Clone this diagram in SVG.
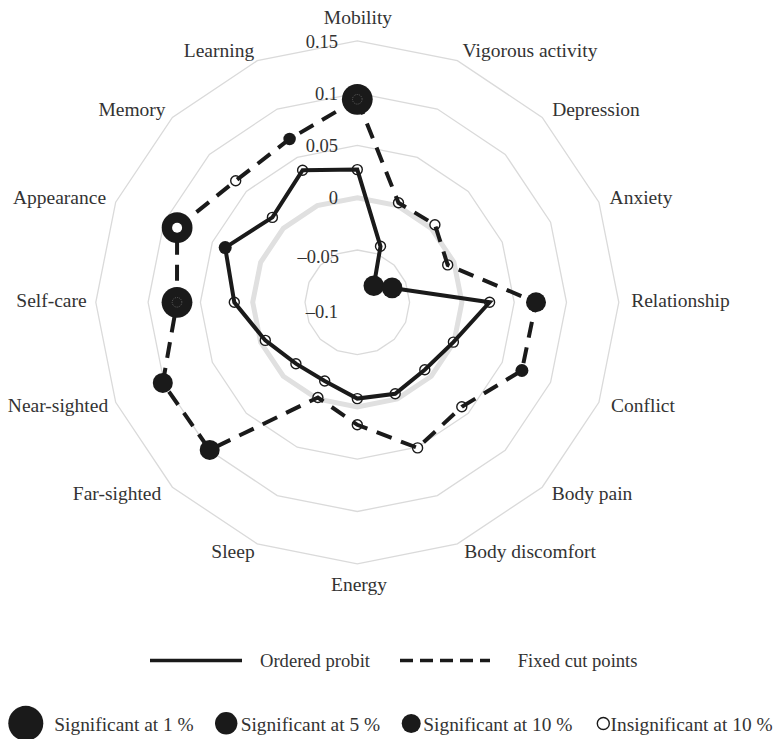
<svg xmlns="http://www.w3.org/2000/svg" width="781" height="739" viewBox="0 0 781 739">
<style>
  text { font-family: "Liberation Serif", "DejaVu Serif", "Times New Roman", serif; fill: #333; }
  .lab { font-size: 19.5px; text-anchor: middle; }
  .tick { font-size: 18.5px; text-anchor: end; }
  .leg1 { font-size: 18.6px; }
  .leg2 { font-size: 19.4px; }
  .ring { fill: none; stroke: #dadada; stroke-width: 1.3; }
  .ring0 { fill: none; stroke: #e0e0e0; stroke-width: 5; }
  .op { fill: none; stroke: #1a1a1a; stroke-width: 4; stroke-linejoin: miter; }
  .fc { fill: none; stroke: #1a1a1a; stroke-width: 4; stroke-dasharray: 16 10; }
  .open { fill: #fff; stroke: #1a1a1a; stroke-width: 1.4; }
  .dot { fill: #1a1a1a; }
  .inner { fill: none; stroke: #777; stroke-width: 0.7; stroke-dasharray: 1 1; }
</style>
<rect width="781" height="739" fill="#fff"/>
<g id="grid" transform="translate(357.3,302.3)">
  <polygon class="ring" points="0,-52.3 20.01,-48.32 36.98,-36.98 48.32,-20.01 52.3,0 48.32,20.01 36.98,36.98 20.01,48.32 0,52.3 -20.01,48.32 -36.98,36.98 -48.32,20.01 -52.3,0 -48.32,-20.01 -36.98,-36.98 -20.01,-48.32"/>
  <polygon class="ring0" points="0,-104.6 40.03,-96.64 73.96,-73.96 96.64,-40.03 104.6,0 96.64,40.03 73.96,73.96 40.03,96.64 0,104.6 -40.03,96.64 -73.96,73.96 -96.64,40.03 -104.6,0 -96.64,-40.03 -73.96,-73.96 -40.03,-96.64"/>
  <polygon class="ring" points="0,-156.9 60.04,-144.96 110.95,-110.95 144.96,-60.04 156.9,0 144.96,60.04 110.95,110.95 60.04,144.96 0,156.9 -60.04,144.96 -110.95,110.95 -144.96,60.04 -156.9,0 -144.96,-60.04 -110.95,-110.95 -60.04,-144.96"/>
  <polygon class="ring" points="0,-209.2 80.06,-193.28 147.93,-147.93 193.28,-80.06 209.2,0 193.28,80.06 147.93,147.93 80.06,193.28 0,209.2 -80.06,193.28 -147.93,147.93 -193.28,80.06 -209.2,0 -193.28,-80.06 -147.93,-147.93 -80.06,-193.28"/>
  <polygon class="ring" points="0,-261.5 100.07,-241.6 184.91,-184.91 241.6,-100.07 261.5,0 241.6,100.07 184.91,184.91 100.07,241.6 0,261.5 -100.07,241.6 -184.91,184.91 -241.6,100.07 -261.5,0 -241.6,-100.07 -184.91,-184.91 -100.07,-241.6"/>
</g>
<g id="ticks" font-family="Liberation Serif, serif">
  <text class="tick" x="338" y="48">0.15</text>
  <text class="tick" x="338" y="100">0.1</text>
  <text class="tick" x="338" y="152">0.05</text>
  <text class="tick" x="338" y="204">0</text>
  <text class="tick" x="339" y="263">–0.05</text>
  <text class="tick" x="338" y="318">–0.1</text>
</g>
<g id="axis-labels" font-family="Liberation Serif, serif">
  <text class="lab" x="358" y="24">Mobility</text>
  <text class="lab" x="530" y="57">Vigorous activity</text>
  <text class="lab" x="596" y="116">Depression</text>
  <text class="lab" x="641" y="204">Anxiety</text>
  <text class="lab" x="680.5" y="307">Relationship</text>
  <text class="lab" x="643" y="412">Conflict</text>
  <text class="lab" x="592" y="500">Body pain</text>
  <text class="lab" x="530" y="558">Body discomfort</text>
  <text class="lab" x="359" y="591">Energy</text>
  <text class="lab" x="233" y="558">Sleep</text>
  <text class="lab" x="117" y="500">Far-sighted</text>
  <text class="lab" x="58" y="412">Near-sighted</text>
  <text class="lab" x="51.5" y="307">Self-care</text>
  <text class="lab" x="59.5" y="204">Appearance</text>
  <text class="lab" x="132" y="116">Memory</text>
  <text class="lab" x="219" y="57">Learning</text>
</g>
<g id="open-markers">
  <circle class="open" cx="357.3" cy="169.6" r="5"/>
  <circle class="open" cx="380.5" cy="246.3" r="5"/>
  <circle class="open" cx="489.6" cy="302.3" r="5"/>
  <circle class="open" cx="453.4" cy="342.1" r="5"/>
  <circle class="open" cx="424.8" cy="369.8" r="5"/>
  <circle class="open" cx="395.2" cy="393.8" r="5"/>
  <circle class="open" cx="357.3" cy="398.6" r="5"/>
  <circle class="open" cx="324.7" cy="381.0" r="5"/>
  <circle class="open" cx="295.9" cy="363.7" r="5"/>
  <circle class="open" cx="265.3" cy="340.4" r="5"/>
  <circle class="open" cx="234.3" cy="302.3" r="5"/>
  <circle class="open" cx="272.4" cy="217.4" r="5"/>
  <circle class="open" cx="302.6" cy="170.2" r="5"/>
  <circle class="open" cx="398.5" cy="202.8" r="5"/>
  <circle class="open" cx="434.9" cy="224.7" r="5"/>
  <circle class="open" cx="447.7" cy="264.9" r="5"/>
  <circle class="open" cx="461.8" cy="406.8" r="5"/>
  <circle class="open" cx="417.6" cy="447.9" r="5"/>
  <circle class="open" cx="357.3" cy="424.8" r="5"/>
  <circle class="open" cx="317.9" cy="397.5" r="5"/>
  <circle class="open" cx="235.7" cy="180.7" r="5"/>
</g>
<g id="connectors">
  <polygon class="op" points="357.3,169.6 380.5,246.3 373.8,285.8 392.1,287.9 489.6,302.3 453.4,342.1 424.8,369.8 395.2,393.8 357.3,398.6 324.7,381.0 295.9,363.7 265.3,340.4 234.3,302.3 225.2,247.6 272.4,217.4 302.6,170.2"/>
  <polygon class="fc" points="357.3,99.3 398.5,202.8 434.9,224.7 447.7,264.9 536.0,302.3 521.9,370.5 461.8,406.8 417.6,447.9 357.3,424.8 317.9,397.5 209.7,449.9 162.8,382.9 177.0,302.3 177.1,227.7 235.7,180.7 289.6,139.0"/>
</g>
<g id="filled-markers">
  <circle class="dot" cx="373.8" cy="285.8" r="10.3"/>
  <circle class="dot" cx="392.1" cy="287.9" r="10.3"/>
  <circle class="dot" cx="225.2" cy="247.6" r="6.5"/>
  <g id="mobility-fc">
    <circle class="dot" cx="357.3" cy="99.3" r="15.4"/>
    <circle class="inner" cx="357.3" cy="99.3" r="4.8"/>
  </g>
  <circle class="dot" cx="536.0" cy="302.3" r="10"/>
  <circle class="dot" cx="521.9" cy="370.5" r="6.5"/>
  <circle class="dot" cx="209.7" cy="449.9" r="10"/>
  <circle class="dot" cx="162.8" cy="382.9" r="10"/>
  <g id="selfcare-fc">
    <circle class="dot" cx="177.0" cy="302.3" r="15.4"/>
    <circle class="inner" cx="177.0" cy="302.3" r="4.8"/>
  </g>
  <g id="appearance-fc">
    <circle class="dot" cx="177.1" cy="227.7" r="15.4"/>
    <circle cx="177.1" cy="227.7" r="5" fill="#fff"/>
  </g>
  <circle class="dot" cx="289.6" cy="139.0" r="6.2"/>
</g>
<g id="legend" font-family="Liberation Serif, serif">
  <line x1="150" y1="660.5" x2="242" y2="660.5" stroke="#1a1a1a" stroke-width="3.5"/>
  <text class="leg1" x="260" y="666.5">Ordered probit</text>
  <line x1="400" y1="660.5" x2="490" y2="660.5" stroke="#1a1a1a" stroke-width="3.5" stroke-dasharray="13 7"/>
  <text class="leg1" x="517.7" y="666.5">Fixed cut points</text>
  <circle class="dot" cx="25.8" cy="723.3" r="17.5"/>
  <text class="leg2" x="54.3" y="731">Significant at 1 %</text>
  <circle class="dot" cx="226.2" cy="723.3" r="11.2"/>
  <text class="leg2" x="240.7" y="731">Significant at 5 %</text>
  <circle class="dot" cx="411.2" cy="723.5" r="9.5"/>
  <text class="leg2" x="423.3" y="731">Significant at 10 %</text>
  <circle class="open" cx="603.3" cy="723.5" r="6" stroke-width="1.2"/>
  <text class="leg2" x="610.5" y="731">Insignificant at 10 %</text>
</g>
</svg>
